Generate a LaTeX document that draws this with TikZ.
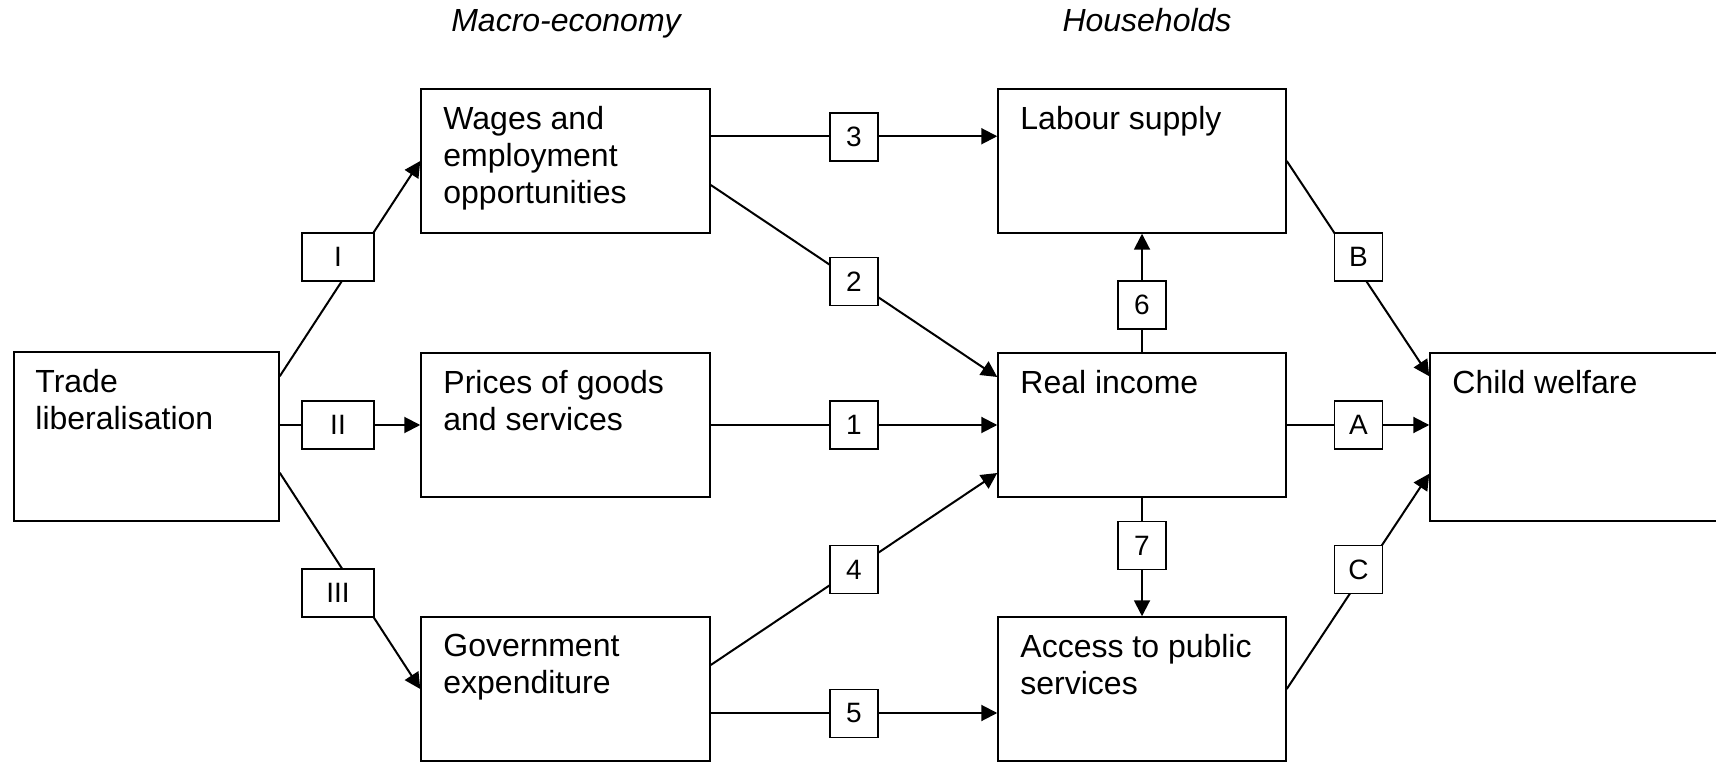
\documentclass[tikz,border=0pt]{standalone}
\usepackage{fontspec}
\setmainfont{Liberation Sans}
\usetikzlibrary{arrows.meta}
\begin{document}
\begin{tikzpicture}[x=0.5pt,y=-0.5pt,
  box/.style={draw, line width=0.75pt, rectangle, inner sep=0pt},
  boxtext/.style={anchor=north west, align=left, inner sep=0pt, font=\fontsize{16}{18.4}\selectfont},
  lab/.style={draw, fill=white, line width=0.75pt, inner sep=0pt, minimum width=24pt, minimum height=24pt, font=\fontsize{14}{16}\selectfont},
  wlab/.style={lab, minimum width=36pt},
  conn/.style={line width=1pt},
  arr/.style={conn, -{Triangle[length=8pt,width=8pt]}},
  title/.style={anchor=base, inner sep=0pt, font=\fontsize{16}{18.4}\selectfont\itshape}
]
\useasboundingbox (0,0) rectangle (1716,763);

% titles
\node[title] (macro) at (566,32) {Macro-economy};
\node[title] (households) at (1147,32) {Households};

% main boxes
\node[box, minimum width=132.5pt, minimum height=84.5pt] (trade) at (146.5,436.5) {};
\node[box, minimum width=144.5pt, minimum height=72pt] (wages) at (565.5,161) {};
\node[box, minimum width=144.5pt, minimum height=72pt] (prices) at (565.5,425) {};
\node[box, minimum width=144.5pt, minimum height=72pt] (gov) at (565.5,689) {};
\node[box, minimum width=144pt, minimum height=72pt] (labour) at (1142,161) {};
\node[box, minimum width=144pt, minimum height=72pt] (real) at (1142,425) {};
\node[box, minimum width=144pt, minimum height=72pt] (access) at (1142,689) {};
\node[box, minimum width=150pt, minimum height=84pt] (child) at (1580,437) {};

% box texts (first baseline 40px below the box top)
\node[boxtext] (tradeT) at (35,369) {Trade\\liberalisation};
\node[boxtext] (wagesT) at (443,106) {Wages and\\employment\\opportunities};
\node[boxtext] (pricesT) at (443,370) {Prices of goods\\and services};
\node[boxtext] (govT) at (443,634) {Government\\expenditure};
\node[boxtext] (labourT) at (1020,106) {Labour supply};
\node[boxtext] (realT) at (1020,370) {Real income};
\node[boxtext] (accessT) at (1020,634) {Access to public\\services};
\node[boxtext] (childT) at (1452,370) {Child welfare};

% connectors
\draw[arr] ([yshift=-12.5pt]trade.north east) -- (wages.west);
\draw[arr] (trade.east |- prices.west) -- (prices.west);
\draw[arr] ([yshift=24.5pt]trade.south east) -- (gov.west);
\draw[arr] ([yshift=-24pt]wages.north east) -- ([yshift=-24pt]labour.north west);
\draw[arr] ([yshift=-12pt]wages.east) -- ([yshift=24pt]real.west);
\draw[arr] (prices.east) -- (real.west);
\draw[arr] ([yshift=12pt]gov.east) -- ([yshift=-24pt]real.west);
\draw[arr] ([yshift=-12pt]gov.east) -- ([yshift=-12pt]access.west);
\draw[arr] (real.north) -- (labour.south);
\draw[arr] (real.south) -- (access.north);
\draw[arr] (labour.east) -- ([yshift=-12pt]child.north west);
\draw[arr] (real.east) -- (child.west |- real.east);
\draw[arr] (access.east) -- ([yshift=24pt]child.south west);

% label boxes
\node[wlab] (lI) at (338,257) {I};
\node[wlab] (lII) at (338,425) {II};
\node[wlab] (lIII) at (338,593) {III};
\node[lab] (l3) at (854,137) {3};
\node[lab] (l2) at (854,281.5) {2};
\node[lab] (l1) at (854,425) {1};
\node[lab] (l4) at (854,569.5) {4};
\node[lab] (l5) at (854,713.5) {5};
\node[lab] (l6) at (1142,305) {6};
\node[lab] (l7) at (1142,545.5) {7};
\node[lab] (lB) at (1358.5,257) {B};
\node[lab] (lA) at (1358.5,425) {A};
\node[lab] (lC) at (1358.5,569.5) {C};
\end{tikzpicture}
\end{document}
